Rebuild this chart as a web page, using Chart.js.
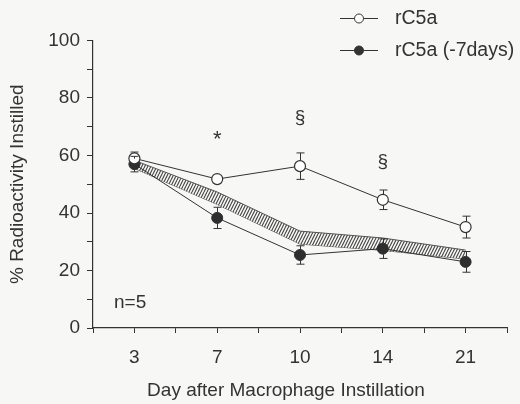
<!DOCTYPE html>
<html><head><meta charset="utf-8">
<script src="https://cdn.jsdelivr.net/npm/chart.js@4/dist/chart.umd.min.js"></script>
<style>html,body{margin:0;padding:0;background:#f7f7f6;} canvas{display:block;}</style>
</head><body>
<canvas id="c" width="520" height="404"></canvas>
<script>
const days = ['3', '7', '10', '14', '21'];
const rC5a = [59, 51.8, 56.3, 44.6, 35.1];
const rC5aErr = [2.2, 0.8, 4.6, 3.4, 3.8];
const rC5aMinus7 = [57, 38.3, 25.4, 27.6, 23.0];
const rC5aMinus7Err = [2.7, 3.7, 3.2, 3.4, 3.6];
const bandUpper = [58.3, 47.3, 33.7, 31.3, 27.1];
const bandLower = [55.5, 43.0, 29.2, 27.0, 24.0];
const seriesNames = ['rC5a', 'rC5a (-7days)'];
const marks = [{i: 1, v: 66.4, t: '*'}, {i: 2, v: 73, t: '§'}, {i: 3, v: 57.7, t: '§'}];
const nLabel = 'n=5';

const INK = '#333333';
const BG = '#f7f7f6';
const FONT = 'Liberation Sans, Arial, Helvetica, sans-serif';

function hatch() {
  const p = document.createElement('canvas');
  p.width = 3; p.height = 6;
  const g = p.getContext('2d');
  g.fillStyle = BG; g.fillRect(0, 0, 3, 6);
  g.strokeStyle = '#444'; g.lineWidth = 1.1;
  g.beginPath();
  g.moveTo(0, 6); g.lineTo(3, 0);
  g.moveTo(-3, 6); g.lineTo(0, 0);
  g.moveTo(3, 6); g.lineTo(6, 0);
  g.stroke();
  return g.createPattern(p, 'repeat');
}
const pts = arr => arr.map((v, i) => ({x: i, y: v}));

const extras = {
  id: 'extras',
  beforeDraw(chart) {
    const ctx = chart.ctx;
    ctx.save(); ctx.fillStyle = BG; ctx.fillRect(0, 0, chart.width, chart.height); ctx.restore();
  },
  afterDatasetsDraw(chart) {
    const ctx = chart.ctx, xs = chart.scales.x, ys = chart.scales.y;
    ctx.save();
    ctx.strokeStyle = INK; ctx.lineWidth = 1;
    const r = 5.5;
    [[rC5a, rC5aErr], [rC5aMinus7, rC5aMinus7Err]].forEach(([vals, errs]) => {
      vals.forEach((v, i) => {
        const x = Math.round(xs.getPixelForValue(i)) + 0.5;
        const yc = ys.getPixelForValue(v);
        const yt = ys.getPixelForValue(v + errs[i]);
        const yb = ys.getPixelForValue(v - errs[i]);
        ctx.beginPath();
        if (yc - r > yt) { ctx.moveTo(x, yc - r); ctx.lineTo(x, yt); ctx.moveTo(x - 4, yt); ctx.lineTo(x + 4, yt); }
        if (yc + r < yb) { ctx.moveTo(x, yc + r); ctx.lineTo(x, yb); ctx.moveTo(x - 4, yb); ctx.lineTo(x + 4, yb); }
        ctx.stroke();
      });
    });
    ctx.fillStyle = INK;
    ctx.textAlign = 'center'; ctx.textBaseline = 'middle';
    marks.forEach(m => {
      ctx.font = (m.t === '*' ? '22px ' : '19px ') + FONT;
      ctx.fillText(m.t, xs.getPixelForValue(m.i), ys.getPixelForValue(m.v) + (m.t === '*' ? 3 : 0));
    });
    ctx.font = '19px ' + FONT;
    ctx.textAlign = 'left';
    ctx.fillText(nLabel, 114, ys.getPixelForValue(8.7));
    ctx.textAlign = 'center';
    ctx.fillText('Day after Macrophage Instillation', 286, 391);
    ctx.font = '19.5px ' + FONT;
    seriesNames.forEach((name, k) => {
      const y = 18 + k * 32;
      ctx.beginPath(); ctx.moveTo(340, y + 0.5); ctx.lineTo(378, y + 0.5); ctx.stroke();
      ctx.beginPath(); ctx.arc(359, y + 0.5, 4.5, 0, Math.PI * 2);
      ctx.fillStyle = k === 0 ? '#fdfdfd' : '#333'; ctx.fill(); ctx.stroke();
      ctx.fillStyle = INK; ctx.textAlign = 'left';
      ctx.fillText(name, 395, y + 1);
    });
    ctx.restore();
  }
};

new Chart(document.getElementById('c'), {
  type: 'line',
  data: {
    datasets: [
      {label: seriesNames[0], data: pts(rC5a), borderColor: INK, borderWidth: 1, pointRadius: 5.5,
       pointBackgroundColor: '#fdfdfd', pointBorderColor: INK, pointBorderWidth: 1.2, fill: false, order: 0, tension: 0},
      {label: seriesNames[1], data: pts(rC5aMinus7), borderColor: INK, borderWidth: 1, pointRadius: 5.5,
       pointBackgroundColor: '#2e2e2e', pointBorderColor: '#2e2e2e', pointBorderWidth: 1, fill: false, order: 0, tension: 0},
      {label: 'lower', data: pts(bandLower), borderColor: '#555', borderWidth: 1, pointRadius: 0, fill: false, order: 2},
      {label: 'upper', data: pts(bandUpper), borderColor: '#555', borderWidth: 1, pointRadius: 0,
       fill: {target: 2}, backgroundColor: hatch(), order: 1}
    ]
  },
  options: {
    responsive: false, animation: false,
    layout: {padding: {left: 0, top: 40.5, right: 11.5, bottom: 0}},
    plugins: {legend: {display: false}, tooltip: {enabled: false}},
    scales: {
      x: {
        type: 'linear', min: -0.5, max: 4.5,
        afterFit: s => { s.height = 76; },
        afterBuildTicks: s => { s.ticks = [-0.5, 0, 0.5, 1, 1.5, 2, 2.5, 3, 3.5, 4, 4.5].map(v => ({value: v})); },
        ticks: {autoSkip: false, maxRotation: 0, padding: 13, color: INK, font: {size: 19, family: FONT},
                callback: v => Number.isInteger(v) && v >= 0 ? days[v] : ''},
        grid: {drawOnChartArea: false, drawTicks: true, tickLength: 5, color: INK},
        border: {display: true, color: INK, width: 1.2}
      },
      y: {
        min: 0, max: 100,
        afterFit: s => { s.width = 93; },
        afterBuildTicks: s => { s.ticks = [0,10,20,30,40,50,60,70,80,90,100].map(v => ({value: v})); },
        ticks: {padding: 7, color: INK, font: {size: 19, family: FONT},
                callback: v => v % 20 === 0 ? String(v) : ''},
        grid: {drawOnChartArea: false, drawTicks: true, tickLength: 6, color: INK},
        border: {display: true, color: INK, width: 1.2},
        title: {display: true, text: '% Radioactivity Instilled', color: INK,
                font: {size: 19, family: FONT}, padding: {top: 6.5, bottom: 0}}
      }
    }
  },
  plugins: [extras]
});
</script>
</body></html>
